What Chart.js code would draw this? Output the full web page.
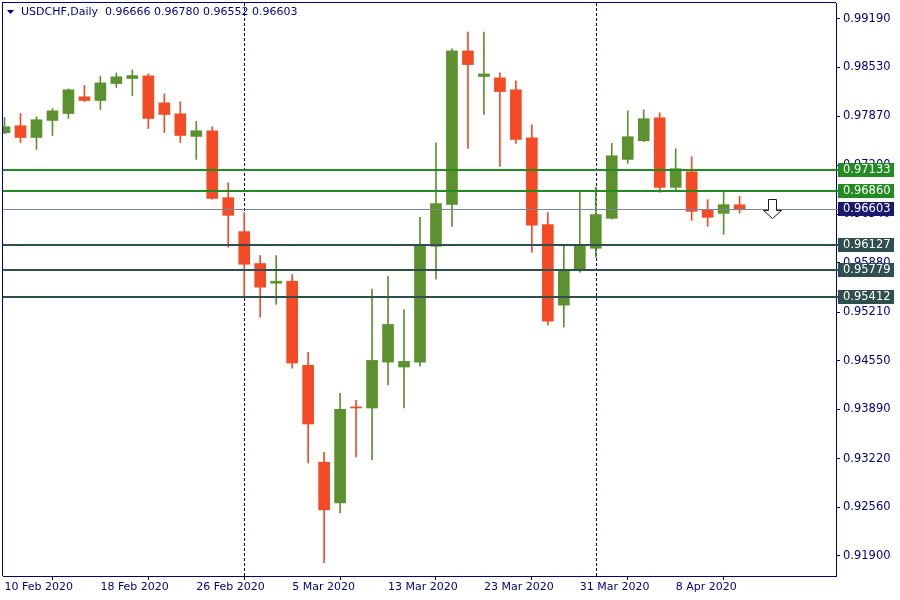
<!DOCTYPE html>
<html>
<head>
<meta charset="utf-8">
<script src="https://cdn.jsdelivr.net/npm/chart.js@4.4.1/dist/chart.umd.min.js"></script>
<style>
    body { margin: 0; background: #ffffff; }
</style>
</head>
<body>
<canvas id="chart" width="900" height="600"></canvas>
<script>
const symbolTitle = 'USDCHF,Daily';
const dates = [
    '10 Feb 2020', '11 Feb 2020', '12 Feb 2020', '13 Feb 2020', '14 Feb 2020',
    '17 Feb 2020', '18 Feb 2020', '19 Feb 2020', '20 Feb 2020', '21 Feb 2020',
    '24 Feb 2020', '25 Feb 2020', '26 Feb 2020', '27 Feb 2020', '28 Feb 2020',
    '2 Mar 2020', '3 Mar 2020', '4 Mar 2020', '5 Mar 2020', '6 Mar 2020',
    '9 Mar 2020', '10 Mar 2020', '11 Mar 2020', '12 Mar 2020', '13 Mar 2020',
    '16 Mar 2020', '17 Mar 2020', '18 Mar 2020', '19 Mar 2020', '20 Mar 2020',
    '23 Mar 2020', '24 Mar 2020', '25 Mar 2020', '26 Mar 2020', '27 Mar 2020',
    '30 Mar 2020', '31 Mar 2020', '1 Apr 2020', '2 Apr 2020', '3 Apr 2020',
    '6 Apr 2020', '7 Apr 2020', '8 Apr 2020', '9 Apr 2020', '10 Apr 2020',
    '13 Apr 2020', '14 Apr 2020'
];
const opens = [
    0.97644, 0.97739, 0.97580, 0.97811, 0.97905, 0.98132, 0.98082, 0.98312, 0.98380, 0.98416,
    0.98050, 0.97901, 0.97594, 0.97671, 0.96763, 0.96302, 0.95869, 0.95602, 0.95629, 0.94487,
    0.93172, 0.92621, 0.93918, 0.93908, 0.94531, 0.94464, 0.94531, 0.96103, 0.96672, 0.98755,
    0.98407, 0.98389, 0.98227, 0.97576, 0.96397, 0.95304, 0.95787, 0.96076, 0.96483, 0.97282,
    0.97535, 0.97847, 0.96903, 0.97115, 0.96591, 0.96550, 0.96666
];
const highs = [
    0.97851, 0.97905, 0.97861, 0.97973, 0.98240, 0.98285, 0.98407, 0.98457, 0.98497, 0.98443,
    0.98172, 0.98064, 0.97797, 0.97725, 0.96966, 0.96560, 0.95977, 0.95977, 0.95720, 0.94663,
    0.93308, 0.94107, 0.94012, 0.95521, 0.95693, 0.95245, 0.96496, 0.97508, 0.98782, 0.99012,
    0.99012, 0.98457, 0.98348, 0.97752, 0.96560, 0.96126, 0.96858, 0.96903, 0.97499, 0.97942,
    0.97955, 0.97915, 0.97427, 0.97319, 0.96736, 0.96858, 0.96780
];
const lows = [
    0.97630, 0.97512, 0.97418, 0.97607, 0.97838, 0.98068, 0.97960, 0.98258, 0.98149, 0.97702,
    0.97648, 0.97512, 0.97282, 0.96740, 0.96090, 0.95435, 0.95141, 0.95317, 0.94450, 0.93163,
    0.91808, 0.92485, 0.93244, 0.93203, 0.94220, 0.93908, 0.94477, 0.95656, 0.96374, 0.97431,
    0.97892, 0.97187, 0.97499, 0.96022, 0.95033, 0.95006, 0.95751, 0.95954, 0.96472, 0.97228,
    0.97522, 0.96835, 0.96858, 0.96455, 0.96374, 0.96266, 0.96552
];
const closes = [
    0.97725, 0.97580, 0.97820, 0.97942, 0.98227, 0.98082, 0.98321, 0.98403, 0.98420, 0.97838,
    0.97892, 0.97607, 0.97671, 0.96754, 0.96523, 0.95859, 0.95548, 0.95629, 0.94518, 0.93691,
    0.92526, 0.93890, 0.93909, 0.94554, 0.95042, 0.94541, 0.96113, 0.96682, 0.98755, 0.98569,
    0.98443, 0.98203, 0.97553, 0.96388, 0.95087, 0.95787, 0.96103, 0.96533, 0.97332, 0.97590,
    0.97834, 0.96903, 0.97156, 0.96577, 0.96496, 0.96668, 0.96603
];
const yTickLabels = ['0.99190', '0.98530', '0.97870', '0.97200', '0.96540', '0.95880', '0.95210', '0.94550', '0.93890', '0.93220', '0.92560', '0.91900'];
const xTickBars = [0, 6, 12, 18, 24, 30, 36, 42];
const monthStartBars = [15, 37];
const levels = [0.97133, 0.96860, 0.96603, 0.96127, 0.95779, 0.95412];
const signalBar = 48;

const navy = '#000080';
const bullColor = '#5b912f';
const bearColor = '#f24b26';
const levelStyles = [
    { color: '#228b22', box: '#228b22', width: 2 },
    { color: '#228b22', box: '#228b22', width: 2 },
    { color: '#778899', box: '#191970', width: 1 },
    { color: '#2f4f4f', box: '#2f4f4f', width: 2 },
    { color: '#2f4f4f', box: '#2f4f4f', width: 2 },
    { color: '#2f4f4f', box: '#2f4f4f', width: 2 }
];
const fontFamily = 'DejaVu Sans';
const fontSize = 11.5;

const candleColors = opens.map((o, i) => closes[i] >= o ? bullColor : bearColor);

// separators behind candles, levels/labels/title on top
const overlay = {
    id: 'overlay',
    beforeDatasetsDraw(chart) {
        const { ctx, chartArea, scales: { x } } = chart;
        ctx.save();
        ctx.strokeStyle = navy;
        ctx.lineWidth = 1;
        ctx.setLineDash([3, 2]);
        monthStartBars.forEach(bar => {
            const px = Math.round(x.getPixelForValue(bar)) + 0.5;
            ctx.beginPath();
            ctx.moveTo(px, chartArea.top);
            ctx.lineTo(px, chartArea.bottom);
            ctx.stroke();
        });
        ctx.setLineDash([]);
        monthStartBars.forEach(bar => {
            const px = Math.round(x.getPixelForValue(bar)) + 0.5;
            ctx.beginPath();
            ctx.moveTo(px, chartArea.bottom - 3);
            ctx.lineTo(px, chartArea.bottom);
            ctx.stroke();
        });
        ctx.restore();
    },
    afterDatasetsDraw(chart) {
        const { ctx, chartArea, scales: { x, y } } = chart;
        ctx.save();
        levels.forEach((level, i) => {
            const py = y.getPixelForValue(level);
            const w = levelStyles[i].width;
            ctx.fillStyle = levelStyles[i].color;
            ctx.fillRect(chartArea.left, Math.round(py - w / 2), chartArea.right - chartArea.left + 2, w);
        });
        // sell arrow at the last price
        const ax = Math.round(x.getPixelForValue(signalBar)) + 0.5;
        const ay = Math.round(y.getPixelForValue(closes[closes.length - 1])) + 0.5;
        ctx.beginPath();
        ctx.moveTo(ax - 4, ay - 10);
        ctx.lineTo(ax + 4, ay - 10);
        ctx.lineTo(ax + 4, ay + 1);
        ctx.lineTo(ax + 9, ay + 1);
        ctx.lineTo(ax, ay + 9);
        ctx.lineTo(ax - 9, ay + 1);
        ctx.lineTo(ax - 4, ay + 1);
        ctx.closePath();
        ctx.fillStyle = '#ffffff';
        ctx.fill();
        ctx.strokeStyle = '#1c1c1c';
        ctx.lineWidth = 1;
        ctx.stroke();
        ctx.restore();
    },
    afterDraw(chart) {
        const { ctx, chartArea, scales: { y } } = chart;
        ctx.save();
        // frame left and top
        ctx.fillStyle = navy;
        ctx.fillRect(chartArea.left - 1, chartArea.top - 1, 1, chartArea.bottom - chartArea.top + 1);
        ctx.fillRect(chartArea.left - 1, chartArea.top - 1, chartArea.right - chartArea.left + 1, 1);
        // price labels on the axis
        ctx.font = fontSize + 'px "' + fontFamily + '"';
        ctx.textBaseline = 'middle';
        levels.forEach((level, i) => {
            const py = Math.round(y.getPixelForValue(level));
            ctx.fillStyle = levelStyles[i].box;
            ctx.fillRect(chartArea.right + 2, py - 7, 56, 14);
            ctx.fillStyle = '#ffffff';
            ctx.fillText(level.toFixed(5), chartArea.right + 7, py + 0.5);
        });
        // title
        ctx.fillStyle = navy;
        ctx.beginPath();
        ctx.moveTo(7, 10);
        ctx.lineTo(14, 10);
        ctx.lineTo(10.5, 14);
        ctx.closePath();
        ctx.fill();
        ctx.font = '11px "' + fontFamily + '"';
        ctx.fillText(symbolTitle + '  ' + [opens, highs, lows, closes].map(a => a[a.length - 1].toFixed(5)).join(' '), 21, 12.5);
        ctx.restore();
    }
};

const ctx = document.querySelector('#chart').getContext('2d');
const chart = new Chart(ctx, {
    type: 'bar',
    data: {
        datasets: [{
            label: 'body',
            data: dates.map((d, i) => ({ x: i, y: [opens[i], closes[i]] })),
            backgroundColor: candleColors,
            barThickness: 11,
            minBarLength: 1,
            grouped: false,
            borderWidth: 0,
            order: 1
        }, {
            label: 'wick',
            data: dates.map((d, i) => ({ x: i, y: [lows[i], highs[i]] })),
            backgroundColor: candleColors,
            barThickness: 1,
            grouped: false,
            borderWidth: 0,
            order: 2
        }]
    },
    options: {
        responsive: false,
        animation: false,
        devicePixelRatio: 1,
        layout: { padding: { left: 3, top: 3, right: 0, bottom: 0 } },
        plugins: { legend: { display: false }, tooltip: { enabled: false } },
        scales: {
            x: {
                type: 'linear',
                offset: false,
                min: -0.09375,
                max: 52.03125,
                grid: { drawOnChartArea: false, color: navy, tickLength: 4 },
                border: { color: navy },
                afterBuildTicks: scale => { scale.ticks = xTickBars.map(v => ({ value: v })); },
                afterFit: scale => { scale.height = 24; scale.paddingLeft = 0; scale.paddingRight = 0; },
                ticks: {
                    autoSkip: false,
                    maxRotation: 0,
                    align: 'start',
                    padding: 1,
                    color: navy,
                    font: { family: fontFamily, size: 11 },
                    callback: value => dates[value]
                }
            },
            y: {
                position: 'right',
                min: 0.91628,
                max: 0.99405,
                grid: { drawOnChartArea: false, color: navy, tickLength: 4 },
                border: { color: navy },
                afterBuildTicks: scale => { scale.ticks = yTickLabels.map(v => ({ value: parseFloat(v) })); },
                afterFit: scale => { scale.width = 64; scale.paddingTop = 0; scale.paddingBottom = 0; },
                ticks: {
                    autoSkip: false,
                    padding: 3,
                    color: navy,
                    font: { family: fontFamily, size: fontSize },
                    callback: value => value.toFixed(5)
                }
            }
        }
    },
    plugins: [overlay]
});
</script>
</body>
</html>
